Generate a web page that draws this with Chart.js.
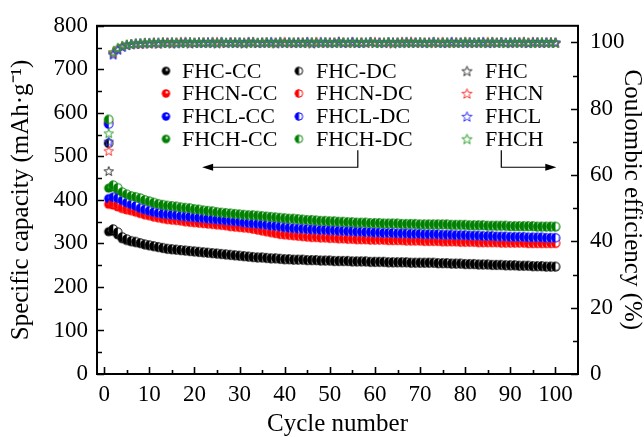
<!DOCTYPE html>
<html>
<head>
<meta charset="utf-8">
<script src="https://cdn.jsdelivr.net/npm/chart.js@4.4.1/dist/chart.umd.min.js"></script>
<style>
  html, body { margin: 0; padding: 0; background: #fff; }
  canvas { display: block; }
</style>
</head>
<body>
<canvas id="chart" width="644" height="437"></canvas>
<script>
// =============================
// DATA
// =============================

const cycles = [
  1, 2, 3, 4, 5, 6, 7, 8, 9, 10, 11, 12, 13, 14, 15, 16, 17, 18, 19, 20,
  21, 22, 23, 24, 25, 26, 27, 28, 29, 30, 31, 32, 33, 34, 35, 36, 37, 38, 39, 40,
  41, 42, 43, 44, 45, 46, 47, 48, 49, 50, 51, 52, 53, 54, 55, 56, 57, 58, 59, 60,
  61, 62, 63, 64, 65, 66, 67, 68, 69, 70, 71, 72, 73, 74, 75, 76, 77, 78, 79, 80,
  81, 82, 83, 84, 85, 86, 87, 88, 89, 90, 91, 92, 93, 94, 95, 96, 97, 98, 99, 100
];

const fhcCC = [
  327, 328, 320, 311, 307, 304, 302, 300, 297, 295, 293, 291, 289, 287, 286, 285, 284, 283, 282, 281,
  280, 279, 278, 277, 276, 275, 274, 273, 272, 271, 270, 269, 268, 267, 267, 266, 265, 265, 264, 263,
  263, 262, 262, 262, 261, 261, 261, 260, 260, 260, 259, 259, 259, 259, 258, 258, 258, 258, 257, 257,
  257, 257, 256, 256, 256, 256, 256, 255, 255, 255, 255, 255, 255, 254, 254, 254, 253, 253, 253, 252,
  252, 252, 251, 251, 251, 250, 250, 250, 249, 249, 249, 248, 248, 248, 247, 247, 247, 246, 246, 246
];
const fhcnCC = [
  390, 388, 384, 380, 377, 375, 372, 369, 366, 364, 361, 359, 357, 355, 354, 353, 352, 350, 349, 348,
  347, 346, 345, 344, 343, 342, 341, 339, 338, 337, 336, 335, 333, 331, 329, 327, 325, 323, 321, 320,
  319, 318, 317, 316, 315, 314, 314, 313, 313, 312, 312, 311, 311, 310, 310, 309, 309, 309, 308, 308,
  308, 308, 307, 307, 307, 307, 306, 306, 306, 306, 305, 305, 305, 305, 304, 304, 304, 304, 303, 303,
  303, 303, 302, 302, 302, 302, 302, 301, 301, 301, 301, 301, 301, 300, 300, 300, 300, 300, 300, 300
];
const fhclCC = [
  403, 401, 398, 395, 391, 388, 384, 380, 377, 374, 371, 369, 367, 366, 365, 364, 362, 361, 360, 359,
  358, 357, 356, 355, 354, 353, 352, 351, 350, 349, 347, 346, 345, 344, 343, 342, 340, 339, 338, 336,
  335, 334, 333, 333, 332, 331, 331, 330, 330, 329, 329, 328, 328, 327, 327, 326, 326, 325, 325, 324,
  324, 323, 323, 323, 322, 322, 322, 321, 321, 321, 320, 320, 320, 320, 319, 319, 319, 318, 318, 318,
  317, 317, 317, 316, 316, 316, 315, 315, 315, 314, 314, 314, 314, 313, 313, 313, 313, 312, 312, 312
];
const fhchCC = [
  427, 430, 422, 414, 410, 407, 405, 403, 399, 396, 393, 390, 388, 386, 385, 384, 382, 381, 380, 378,
  377, 375, 374, 373, 371, 370, 369, 368, 367, 366, 365, 364, 364, 363, 362, 361, 360, 359, 358, 357,
  356, 356, 355, 354, 353, 353, 352, 351, 351, 350, 350, 349, 349, 348, 348, 347, 347, 347, 346, 346,
  346, 345, 345, 345, 345, 344, 344, 344, 344, 343, 343, 343, 343, 343, 343, 343, 342, 342, 342, 342,
  341, 341, 341, 341, 340, 340, 340, 340, 340, 339, 339, 339, 339, 339, 339, 338, 338, 338, 338, 338
];

const fhcDC = [
  530, 333, 326, 315, 310, 306, 304, 301, 298, 296, 294, 292, 290, 288, 287, 286, 285, 284, 283, 282,
  281, 280, 279, 278, 277, 276, 275, 274, 273, 272, 271, 270, 269, 268, 268, 267, 266, 266, 265, 264,
  264, 263, 263, 263, 262, 262, 262, 261, 261, 261, 260, 260, 260, 260, 259, 259, 259, 259, 258, 258,
  258, 258, 257, 257, 257, 257, 257, 256, 256, 256, 256, 256, 256, 255, 255, 255, 254, 254, 254, 253,
  253, 253, 252, 252, 252, 251, 251, 251, 250, 250, 250, 249, 249, 249, 248, 248, 248, 247, 247, 247
];
const fhcnDC = [
  578, 394, 390, 384, 380, 377, 374, 370, 367, 365, 362, 360, 358, 356, 355, 354, 353, 351, 350, 349,
  348, 347, 346, 345, 344, 343, 342, 340, 339, 338, 337, 336, 334, 332, 330, 328, 326, 324, 322, 321,
  320, 319, 318, 317, 316, 315, 315, 314, 314, 313, 313, 312, 312, 311, 311, 310, 310, 310, 309, 309,
  309, 309, 308, 308, 308, 308, 307, 307, 307, 307, 306, 306, 306, 306, 305, 305, 305, 305, 304, 304,
  304, 304, 303, 303, 303, 303, 303, 302, 302, 302, 302, 302, 302, 301, 301, 301, 301, 301, 301, 301
];
const fhclDC = [
  574, 406, 404, 399, 394, 390, 386, 381, 378, 375, 372, 370, 368, 367, 366, 365, 363, 362, 361, 360,
  359, 358, 357, 356, 355, 354, 353, 352, 351, 350, 348, 347, 346, 345, 344, 343, 341, 340, 339, 337,
  336, 335, 334, 334, 333, 332, 332, 331, 331, 330, 330, 329, 329, 328, 328, 327, 327, 326, 326, 325,
  325, 324, 324, 324, 323, 323, 323, 322, 322, 322, 321, 321, 321, 321, 320, 320, 320, 319, 319, 319,
  318, 318, 318, 317, 317, 317, 316, 316, 316, 315, 315, 315, 315, 314, 314, 314, 314, 313, 313, 313
];
const fhchDC = [
  585, 434, 428, 418, 413, 409, 407, 404, 400, 397, 394, 391, 389, 387, 386, 385, 383, 382, 381, 379,
  378, 376, 375, 374, 372, 371, 370, 369, 368, 367, 366, 365, 365, 364, 363, 362, 361, 360, 359, 358,
  357, 357, 356, 355, 354, 354, 353, 352, 352, 351, 351, 350, 350, 349, 349, 348, 348, 348, 347, 347,
  347, 346, 346, 346, 346, 345, 345, 345, 345, 344, 344, 344, 344, 344, 344, 344, 343, 343, 343, 343,
  342, 342, 342, 342, 341, 341, 341, 341, 341, 340, 340, 340, 340, 340, 340, 339, 339, 339, 339, 339
];

const fhcCE = [
  61.2, 96.6, 97.9, 98.8, 99.2, 99.4, 99.6, 99.5, 99.8, 99.7, 99.9, 99.6, 100.1, 99.8, 99.7, 100.0, 99.8, 100.2, 99.7, 99.9,
  100.1, 99.8, 99.9, 100.2, 99.7, 100.0, 99.9, 100.1, 99.8, 100.0, 99.7, 100.2, 99.9, 99.8, 100.1, 99.9, 100.0, 99.7, 100.2, 99.9,
  100.0, 99.8, 100.1, 99.9, 100.2, 99.7, 100.0, 99.9, 100.1, 99.8, 100.0, 100.3, 99.8, 99.9, 100.1, 99.8, 100.0, 99.9, 100.2, 99.8,
  100.0, 99.9, 100.1, 99.7, 100.0, 100.2, 99.8, 99.9, 100.1, 99.9, 100.0, 99.8, 100.2, 99.9, 100.0, 99.8, 100.1, 99.9, 100.0, 100.2,
  99.8, 99.9, 100.1, 100.0, 99.8, 100.2, 99.9, 100.0, 99.8, 100.1, 99.9, 100.0, 100.2, 99.8, 99.9, 100.1, 100.0, 99.8, 100.0, 99.9
];
const fhcnCE = [
  67.3, 96.9, 98.2, 98.9, 99.3, 99.5, 99.7, 99.6, 99.9, 99.7, 100.0, 99.7, 99.9, 100.1, 99.8, 99.9, 100.2, 99.8, 100.0, 99.9,
  99.8, 100.1, 100.0, 99.8, 100.2, 99.9, 99.8, 100.0, 100.1, 99.8, 100.0, 99.9, 100.2, 99.8, 99.9, 100.1, 99.8, 100.0, 99.9, 100.2,
  99.8, 100.0, 99.9, 100.1, 99.8, 100.0, 100.2, 99.9, 99.8, 100.1, 99.9, 100.0, 100.1, 99.8, 100.0, 99.9, 100.1, 99.8, 100.0, 100.2,
  99.9, 100.0, 99.8, 100.1, 99.9, 100.0, 100.1, 100.3, 99.8, 100.0, 99.9, 100.1, 99.8, 100.0, 100.2, 99.9, 99.8, 100.1, 99.9, 100.0,
  100.1, 99.8, 100.0, 99.9, 100.2, 99.8, 100.0, 100.1, 99.9, 99.8, 100.0, 100.1, 99.9, 100.0, 100.2, 99.8, 99.9, 100.0, 100.1, 99.9
];
const fhclCE = [
  70.1, 96.3, 97.8, 98.6, 99.2, 99.5, 99.6, 99.8, 99.7, 99.9, 99.8, 100.0, 99.8, 99.9, 100.1, 99.7, 100.0, 99.9, 100.1, 99.8,
  100.0, 99.9, 100.1, 99.8, 99.9, 100.2, 99.8, 100.0, 99.9, 100.1, 99.8, 100.0, 100.1, 99.9, 99.8, 100.0, 100.2, 99.9, 100.0, 99.8,
  100.1, 99.9, 100.0, 99.8, 100.1, 100.0, 99.8, 100.2, 99.9, 100.0, 99.8, 100.1, 99.9, 100.0, 100.2, 99.9, 99.8, 100.0, 100.1, 99.9,
  100.0, 99.8, 100.1, 100.0, 99.9, 99.8, 100.2, 100.0, 99.9, 100.1, 99.8, 100.0, 100.1, 99.9, 99.8, 100.0, 100.2, 99.9, 100.0, 99.8,
  100.1, 100.0, 99.9, 100.2, 99.8, 100.0, 99.9, 100.1, 100.0, 99.8, 100.1, 99.9, 100.0, 99.8, 100.1, 100.0, 99.9, 100.1, 99.9, 100.0
];
const fhchCE = [
  72.6, 97.1, 98.4, 99.0, 99.4, 99.5, 99.7, 99.8, 99.9, 99.8, 100.0, 99.9, 100.0, 99.8, 100.1, 99.9, 100.0, 99.8, 100.1, 100.0,
  99.9, 100.1, 99.8, 100.0, 99.9, 100.1, 100.0, 99.8, 100.1, 99.9, 100.0, 99.8, 100.1, 100.0, 99.9, 100.1, 99.8, 100.0, 100.1, 99.9,
  100.0, 100.1, 99.8, 100.0, 99.9, 100.1, 100.0, 99.9, 100.1, 99.8, 100.0, 99.9, 100.1, 100.0, 99.8, 100.1, 99.9, 100.0, 100.1, 99.9,
  99.8, 100.0, 100.1, 99.9, 100.0, 99.8, 100.1, 100.0, 99.9, 100.1, 100.0, 99.8, 100.1, 99.9, 100.0, 100.1, 99.8, 100.0, 99.9, 100.1,
  100.0, 99.9, 100.1, 99.8, 100.0, 100.1, 99.9, 100.0, 99.8, 100.1, 100.0, 99.9, 100.1, 100.0, 99.8, 100.0, 100.1, 99.9, 100.0, 99.9
];

const xTicks = [0, 10, 20, 30, 40, 50, 60, 70, 80, 90, 100];
const capTicks = [0, 100, 200, 300, 400, 500, 600, 700, 800];
const ceTicks = [0, 20, 40, 60, 80, 100];

// arrows, in data units (cycle, capacity)
const leftArrow = { x: 56.2, yTop: 514, y: 475, head: 21.7 };
const rightArrow = { x: 88, yTop: 514, y: 475, head: 100.2 };


// =============================
// MARKERS
// =============================

function sphere(color, r) {
  const c = document.createElement('canvas');
  const s = Math.ceil(r * 2 + 2);
  c.width = s; c.height = s;
  const g = c.getContext('2d');
  const m = s / 2;
  const grad = g.createRadialGradient(m + r * 0.25, m - r * 0.35, r * 0.1, m, m, r);
  grad.addColorStop(0, '#ffffff');
  grad.addColorStop(0.35, color);
  grad.addColorStop(1, color);
  g.fillStyle = grad;
  g.beginPath(); g.arc(m, m, r, 0, Math.PI * 2); g.fill();
  return c;
}

function halfCircle(color, r) {
  const c = document.createElement('canvas');
  const s = Math.ceil(r * 2 + 2);
  c.width = s; c.height = s;
  const g = c.getContext('2d');
  const m = s / 2;
  g.fillStyle = '#fff';
  g.beginPath(); g.arc(m, m, r, 0, Math.PI * 2); g.fill();
  g.fillStyle = color;
  g.beginPath(); g.arc(m, m, r, Math.PI / 2, Math.PI * 1.5); g.closePath(); g.fill();
  g.strokeStyle = color; g.lineWidth = 1;
  g.beginPath(); g.arc(m, m, r - 0.5, 0, Math.PI * 2); g.stroke();
  return c;
}

function star(color, r) {
  const c = document.createElement('canvas');
  const s = Math.ceil(r * 2 + 2);
  c.width = s; c.height = s;
  const g = c.getContext('2d');
  const m = s / 2;
  g.strokeStyle = color; g.lineWidth = 1;
  g.beginPath();
  for (let i = 0; i < 10; i++) {
    const rad = i % 2 === 0 ? r : r * 0.42;
    const a = -Math.PI / 2 + i * Math.PI / 5;
    const px = m + rad * Math.cos(a), py = m + 0.5 + rad * Math.sin(a);
    if (i === 0) g.moveTo(px, py); else g.lineTo(px, py);
  }
  g.closePath(); g.stroke();
  return c;
}

const circColors = ['#000000', '#ff0000', '#0000ff', '#008000'];
const starColors = ['#333333', '#ff3333', '#3333ff', '#2ca02c'];
const names = ['FHC', 'FHCN', 'FHCL', 'FHCH'];
const ccData = [fhcCC, fhcnCC, fhclCC, fhchCC];
const dcData = [fhcDC, fhcnDC, fhclDC, fhchDC];
const ceData = [fhcCE, fhcnCE, fhclCE, fhchCE];


// =============================
// DATASETS
// =============================

const datasets = [];
let order = 100;

function points(values) {
  return cycles.map((c, i) => ({ x: c, y: values[i] }));
}

names.forEach((n, i) => {
  datasets.push({
    label: n + '-CC', data: points(ccData[i]), yAxisID: 'y',
    pointStyle: sphere(circColors[i], 4.6), legendStyle: sphere(circColors[i], 4.2),
    showLine: false, order: order--
  });
});
names.forEach((n, i) => {
  datasets.push({
    label: n + '-DC', data: points(dcData[i]), yAxisID: 'y',
    pointStyle: halfCircle(circColors[i], 4.6), legendStyle: halfCircle(circColors[i], 4.2),
    showLine: false, order: order--
  });
});
names.forEach((n, i) => {
  datasets.push({
    label: n, data: points(ceData[i]), yAxisID: 'y2',
    pointStyle: star(starColors[i], 5), legendStyle: star(starColors[i], 5.3),
    showLine: false, order: order--
  });
});


// =============================
// FRAME, TICKS, ARROWS, LEGEND
// =============================

function arrowHead(ctx, x, y, dir) {
  ctx.beginPath();
  ctx.moveTo(x, y);
  ctx.lineTo(x - dir * 11, y - 3.5);
  ctx.lineTo(x - dir * 11, y + 3.5);
  ctx.closePath();
  ctx.fill();
}

const extras = {
  id: 'extras',
  afterDatasetsDraw(chart) {
    const ctx = chart.ctx;
    const a = chart.chartArea;
    const sx = chart.scales.x, sy = chart.scales.y, sy2 = chart.scales.y2;
    ctx.save();
    ctx.strokeStyle = '#000';
    ctx.fillStyle = '#000';

    // inward ticks
    ctx.lineWidth = 1.6;
    ctx.beginPath();
    for (let v = 0; v <= 100; v += 5) {
      const p = Math.round(sx.getPixelForValue(v)) + 0.5;
      const len = v % 10 === 0 ? 7 : 4;
      ctx.moveTo(p, a.bottom); ctx.lineTo(p, a.bottom - len);
    }
    for (let v = 0; v <= 800; v += 50) {
      const p = Math.round(sy.getPixelForValue(v)) + 0.5;
      const len = v % 100 === 0 ? 7 : 5;
      ctx.moveTo(a.left, p); ctx.lineTo(a.left + len, p);
    }
    for (let v = 0; v <= 100; v += 10) {
      const p = Math.round(sy2.getPixelForValue(v)) + 0.5;
      const len = v % 20 === 0 ? 7 : 5;
      ctx.moveTo(a.right, p); ctx.lineTo(a.right - len, p);
    }
    ctx.stroke();

    // frame
    ctx.lineWidth = 2;
    ctx.strokeRect(a.left, a.top, a.right - a.left, a.bottom - a.top);

    // arrows
    ctx.lineWidth = 1.2;
    const lx = sx.getPixelForValue(leftArrow.x);
    const ly = sy.getPixelForValue(leftArrow.y);
    const lt = sy.getPixelForValue(leftArrow.yTop);
    const lh = sx.getPixelForValue(leftArrow.head);
    ctx.beginPath();
    ctx.moveTo(lx, lt); ctx.lineTo(lx, ly); ctx.lineTo(lh + 8, ly);
    ctx.stroke();
    arrowHead(ctx, lh, ly, -1);

    const rx = sx.getPixelForValue(rightArrow.x);
    const ry = sy.getPixelForValue(rightArrow.y);
    const rt = sy.getPixelForValue(rightArrow.yTop);
    const rh = sx.getPixelForValue(rightArrow.head);
    ctx.beginPath();
    ctx.moveTo(rx, rt); ctx.lineTo(rx, ry); ctx.lineTo(rh - 8, ry);
    ctx.stroke();
    arrowHead(ctx, rh, ry, 1);

    // legend, three columns of four
    const colX = [166, 299, 467];
    const textX = [182, 316, 485];
    const rowY = [71, 93.5, 116.5, 139];
    ctx.font = '22px "Liberation Serif", "Times New Roman", serif';
    ctx.textBaseline = 'middle';
    ctx.textAlign = 'left';
    chart.data.datasets.forEach((ds, i) => {
      const col = Math.floor(i / 4), row = i % 4;
      const img = ds.legendStyle;
      ctx.drawImage(img, colX[col] - img.width / 2, rowY[row] - img.height / 2);
      ctx.fillText(ds.label, textX[col], rowY[row] + 1);
    });
    ctx.restore();
  }
};


// =============================
// CHART
// =============================

const serif = '"Liberation Serif", "Times New Roman", serif';
const tickFont = { family: serif, size: 23 };
const titleFont = { family: serif, size: 25, lineHeight: 1 };

new Chart(document.getElementById('chart'), {
  type: 'scatter',
  data: { datasets },
  plugins: [extras],
  options: {
    responsive: false,
    animation: false,
    devicePixelRatio: 1,
    layout: { padding: { top: 23, left: 0, right: 0, bottom: 0 } },
    plugins: { legend: { display: false }, tooltip: { enabled: false } },
    scales: {
      x: {
        type: 'linear', min: -1.6, max: 105,
        afterBuildTicks: s => { s.ticks = xTicks.map(v => ({ value: v })); },
        afterFit: s => { s.height = 63; },
        grid: { display: false, drawTicks: false },
        border: { display: false },
        ticks: { font: tickFont, color: '#000', padding: 7, maxRotation: 0, autoSkip: false },
        title: { display: true, text: 'Cycle number', font: titleFont, color: '#000', padding: { top: 0, bottom: 0 } }
      },
      y: {
        position: 'left', min: 0, max: 800,
        afterBuildTicks: s => { s.ticks = capTicks.map(v => ({ value: v })); },
        afterFit: s => { s.width = 97; },
        grid: { display: false, drawTicks: false },
        border: { display: false },
        ticks: { font: tickFont, color: '#000', padding: 9, autoSkip: false },
        title: { display: true, text: 'Specific capacity (mAh\u00b7g\u207b\u00b9)', font: titleFont, color: '#000', padding: { top: 9, bottom: 0 } }
      },
      y2: {
        position: 'right', min: 0, max: 105,
        afterBuildTicks: s => { s.ticks = ceTicks.map(v => ({ value: v })); },
        afterFit: s => { s.width = 66; },
        grid: { display: false, drawTicks: false },
        border: { display: false },
        ticks: { font: tickFont, color: '#000', padding: 12, autoSkip: false },
        title: { display: true, text: 'Coulombic efficiency (%)', font: titleFont, color: '#000', padding: { top: 0, bottom: 0 } }
      }
    }
  }
});
</script>
</body>
</html>
